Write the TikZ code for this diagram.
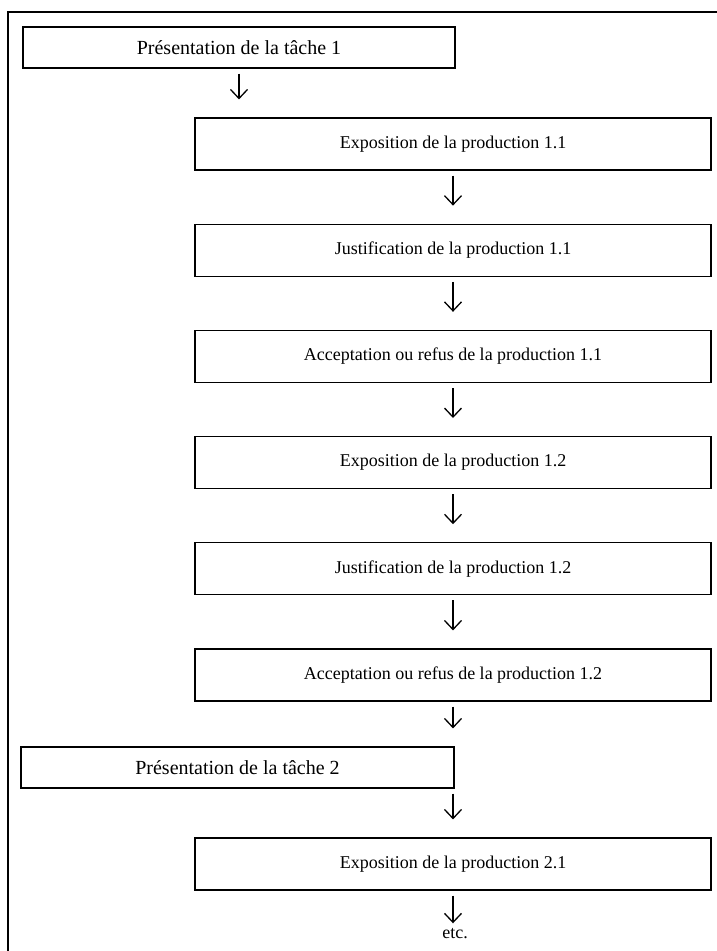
\documentclass[tikz,border=0pt]{standalone}
\usepackage{fontspec}
\setmainfont{Liberation Serif}
\usetikzlibrary{positioning}
\usetikzlibrary{arrows.meta}
\tikzset{>={Straight Barb[length=9pt,width=17pt]}}
\tikzset{stage/.style={draw,line width=1.2pt,minimum width=516pt,minimum height=52pt,inner sep=0pt,font=\fontsize{18}{21}\selectfont}}
\tikzset{task/.style={stage,minimum width=432pt,minimum height=41pt,font=\fontsize{20}{24}\selectfont}}
\tikzset{flow/.style={->,line width=1.3pt,shorten <=5pt,shorten >=18pt}}

\begin{document}
\begin{tikzpicture}[x=1pt,y=1pt]
        \useasboundingbox (0,0) rectangle (717,-951);
        \draw[line width=1.3pt] (8,-951) -- (8,-12) -- (717,-12);

        \node[task] (T1) at (239,-47.5) {Présentation de la tâche 1};

        \node[stage] (P11) at (453,-144) {Exposition de la production 1.1};
        \node[stage] (J11) [below=53pt of P11] {Justification de la production 1.1};
        \node[stage] (A11) [below=53pt of J11] {Acceptation ou refus de la production 1.1};
        \node[stage] (P12) [below=53pt of A11] {Exposition de la production 1.2};
        \node[stage] (J12) [below=53pt of P12] {Justification de la production 1.2};
        \node[stage] (A12) [below=53pt of J12] {Acceptation ou refus de la production 1.2};

        \node[task, minimum width=433pt] (T2) at (237.5,-767.5) {Présentation de la tâche 2};

        \node[stage] (P21) at (453,-864) {Exposition de la production 2.1};
        \node[font=\fontsize{18}{21}\selectfont] (etc) at (455,-934) {etc.};

        \draw[flow] (T1.south) -- (T1.south |- P11.north);
        \draw[flow] (P11.south) -- (J11.north);
        \draw[flow] (J11.south) -- (A11.north);
        \draw[flow] (A11.south) -- (P12.north);
        \draw[flow] (P12.south) -- (J12.north);
        \draw[flow] (J12.south) -- (A12.north);
        \draw[flow] (A12.south) -- (A12.south |- T2.north);
        \draw[flow] (P21.north |- T2.south) -- (P21.north);
        \draw[flow, shorten >=2pt] (P21.south) -- (P21.south |- etc.north);
\end{tikzpicture}
\end{document}
